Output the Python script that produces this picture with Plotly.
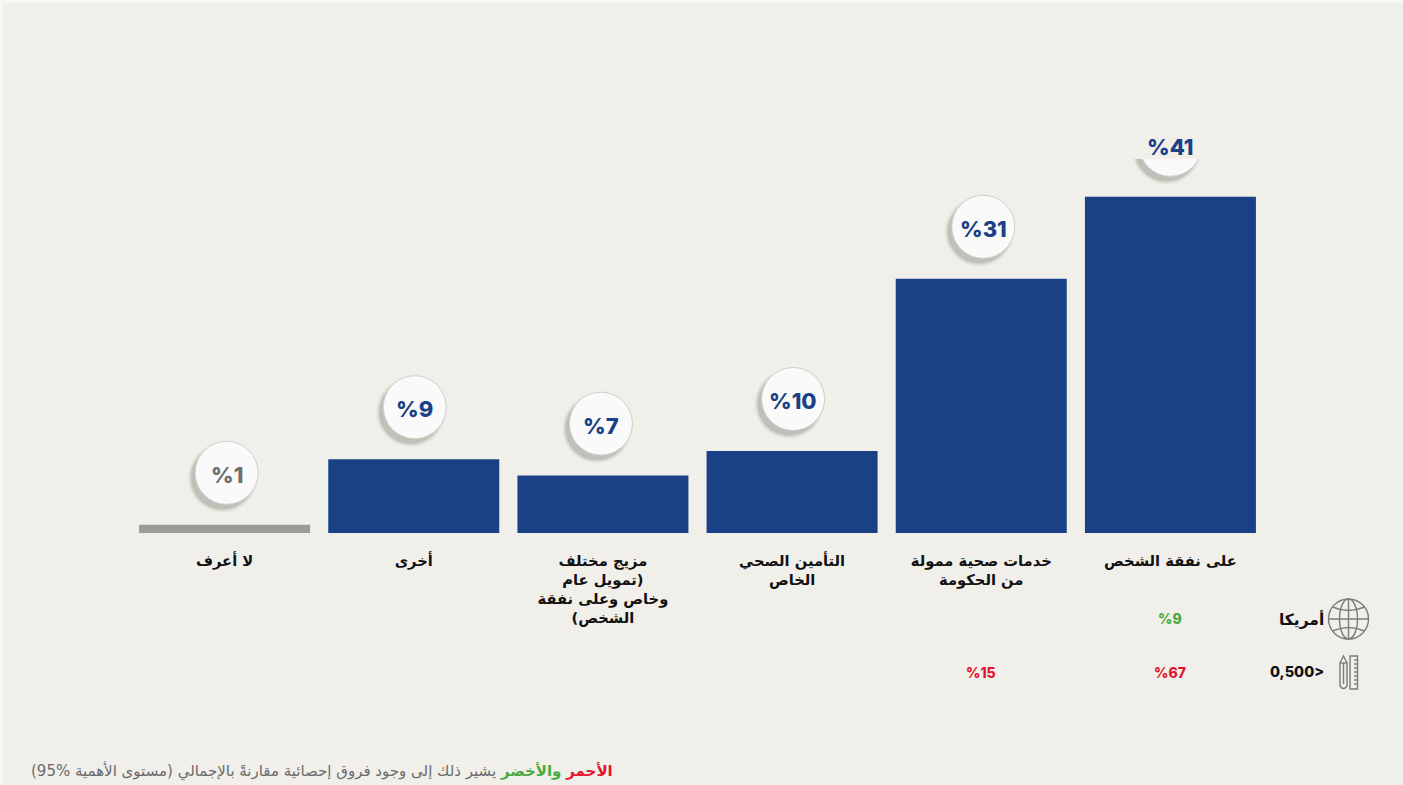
import plotly.graph_objects as go

# Survey results, ordered right to left as read in Arabic
categories = [
    "على نفقة الشخص",
    "خدمات صحية ممولة<br>من الحكومة",
    "التأمين الصحي<br>الخاص",
    "مزيج مختلف<br>\u202b(تمويل عام<br>وخاص وعلى نفقة<br>\u202bالشخص)",
    "أخرى",
    "لا أعرف",
]
shares = [41, 31, 10, 7, 9, 1]
usa_row = [9, None, None, None, None, None]
income_row = [67, 15, None, None, None, None]

row_usa_label = "أمريكا"
row_income_label = "0,500>"

W, H = 1403, 785
LEFT, RIGHT, BASE, TOP = 130, 1265, 533, 41
PX_PER_UNIT = (BASE - TOP) / 60
STEP = (RIGHT - LEFT) / len(categories)

PANEL = "#F0EFEA"
BLUE = "#1A4185"
GREY_BAR = "#9B9B99"
GREY_TEXT = "#6F6F6F"
GREEN = "#4BAA3F"
RED = "#E3142D"
ICON = "#7C7C7C"
FONT = "Inter, DejaVu Sans, sans-serif"
ARABIC = "DejaVu Sans, sans-serif"

BADGE_SIZE = 63
BADGE_GAP_UNITS = 52 / PX_PER_UNIT
badge_nudge_px = [0, 2, 1, -2, 1, 2]


def px_x(x):
    return (x - LEFT) / (RIGHT - LEFT)


def px_y(y):
    return (BASE - y) / (BASE - TOP)


idx = list(range(len(categories)))
fig = go.Figure()

fig.add_bar(
    x=idx,
    y=shares,
    width=171 / STEP,
    marker=dict(color=[BLUE, BLUE, BLUE, BLUE, BLUE, GREY_BAR], line_width=0),
    hoverinfo="skip",
)

badge_x = [i - n / STEP for i, n in zip(idx, badge_nudge_px)]
badge_y = [v + BADGE_GAP_UNITS for v in shares]

# Soft drop shadow: stacked translucent discs shifted down and to the left
for spread, alpha in ((7, 0.04), (5, 0.05), (3, 0.07), (1, 0.09), (0, 0.10)):
    fig.add_scatter(
        x=[x + 4 / STEP for x in badge_x],
        y=[y - 5 / PX_PER_UNIT for y in badge_y],
        mode="markers",
        marker=dict(size=BADGE_SIZE + spread, color=f"rgba(90,90,80,{alpha})", line_width=0),
        hoverinfo="skip",
        cliponaxis=False,
    )

fig.add_scatter(
    x=badge_x,
    y=badge_y,
    mode="markers",
    marker=dict(size=BADGE_SIZE, color="#FAFAFA", line=dict(color="#CFCFCB", width=1)),
    hoverinfo="skip",
    cliponaxis=False,
)

annotations = []
for x, y, v in zip(badge_x, badge_y, shares):
    annotations.append(dict(
        x=x, y=y, xref="x", yref="y", text=f"%{v}", showarrow=False, yshift=-2,
        font=dict(family=FONT, size=22, weight=800,
                  color=GREY_TEXT if v == 1 else BLUE),
        xanchor="center", yanchor="middle",
    ))


def row_cell(i, py, value, color):
    annotations.append(dict(
        x=i, y=px_y(py), xref="x", yref="paper", text=f"%{value}", showarrow=False,
        font=dict(family=FONT, size=14, weight=800, color=color),
        xanchor="center", yanchor="middle",
    ))


for i, v in zip(idx, usa_row):
    if v is not None:
        row_cell(i, 618, v, GREEN)
for i, v in zip(idx, income_row):
    if v is not None:
        row_cell(i, 672, v, RED)

annotations.append(dict(
    x=px_x(1326), y=px_y(619), xref="paper", yref="paper", text=row_usa_label,
    showarrow=False, xanchor="right", yanchor="middle",
    font=dict(family=ARABIC, size=15.5, weight=700, color="#111111"),
))
annotations.append(dict(
    x=px_x(1326), y=px_y(671), xref="paper", yref="paper", text=row_income_label,
    showarrow=False, xanchor="right", yanchor="middle",
    font=dict(family=FONT, size=14.5, weight=800, color="#111111"),
))

# Footnote with the two colour words picked out
annotations.append(dict(
    x=px_x(615), y=px_y(771), xref="paper", yref="paper", showarrow=False,
    xanchor="right", yanchor="middle",
    font=dict(family=ARABIC, size=15, color="#6B6B6B"),
    text=f"<b><span style='color:{RED}'>\u202bالأحمر</span></b> "
         f"<b><span style='color:{GREEN}'>والأخضر</span></b> "
         "يشير ذلك إلى وجود فروق إحصائية مقارنةً بالإجمالي (مستوى الأهمية %95)",
))

shapes = [
    dict(type="rect", xref="paper", yref="paper", layer="below", line_width=0,
         fillcolor=PANEL, x0=px_x(3), x1=px_x(W), y0=px_y(3), y1=px_y(H)),
    # Panel-coloured band that trims the top of the tallest badge
    dict(type="rect", xref="paper", yref="paper", layer="above", line_width=0,
         fillcolor=PANEL, x0=px_x(1128), x1=px_x(1212), y0=px_y(159), y1=px_y(104)),
]


def icon_line(**kw):
    shapes.append(dict(xref="paper", yref="paper", layer="above",
                       line=dict(color=ICON, width=1.4), **kw))


def icon_path(points):
    icon_line(type="path", path=points)


def P(x, y):
    return f"{px_x(x):.5f},{px_y(y):.5f}"


# Globe icon
gx, gy, gr = 1348.5, 619, 20
icon_line(type="circle", x0=px_x(gx - gr), x1=px_x(gx + gr), y0=px_y(gy - gr), y1=px_y(gy + gr))
icon_line(type="circle", x0=px_x(gx - 9), x1=px_x(gx + 9), y0=px_y(gy - gr), y1=px_y(gy + gr))
icon_line(type="line", x0=px_x(gx), x1=px_x(gx), y0=px_y(gy - gr), y1=px_y(gy + gr))
icon_line(type="line", x0=px_x(gx - gr), x1=px_x(gx + gr), y0=px_y(gy), y1=px_y(gy))
icon_path(f"M{P(gx - 16, gy - 12)} Q{P(gx, gy - 5)} {P(gx + 16, gy - 12)}")
icon_path(f"M{P(gx - 16, gy + 12)} Q{P(gx, gy + 5)} {P(gx + 16, gy + 12)}")

# Pencil and ruler icon
icon_path(f"M{P(1340, 663)} L{P(1343.5, 656)} L{P(1347, 663)} L{P(1347, 686)} "
          f"Q{P(1343.5, 691)} {P(1340, 686)} Z")
icon_line(type="line", x0=px_x(1343.5), x1=px_x(1343.5), y0=px_y(663), y1=px_y(684))
icon_line(type="line", x0=px_x(1340), x1=px_x(1347), y0=px_y(663), y1=px_y(663))
icon_line(type="rect", x0=px_x(1350), x1=px_x(1357.5), y0=px_y(656), y1=px_y(689))
for ty in range(660, 687, 4):
    icon_line(type="line", x0=px_x(1354), x1=px_x(1357.5), y0=px_y(ty), y1=px_y(ty))

fig.update_layout(
    width=W,
    height=H,
    margin=dict(l=LEFT, r=W - RIGHT, t=TOP, b=H - BASE, pad=0),
    paper_bgcolor="#F8F8F5",
    plot_bgcolor="rgba(0,0,0,0)",
    showlegend=False,
    annotations=annotations,
    shapes=shapes,
    xaxis=dict(
        range=[len(categories) - 0.5, -0.5],
        tickmode="array",
        tickvals=idx,
        ticktext=categories,
        tickangle=0,
        ticks="",
        showline=False,
        showgrid=False,
        zeroline=False,
        ticklabelstandoff=17,
        tickfont=dict(family=ARABIC, size=14.7, weight=700, color="#111111"),
    ),
    yaxis=dict(range=[0, 60], visible=False, fixedrange=True),
)

fig.write_html("out.html", config={"displayModeBar": False})
